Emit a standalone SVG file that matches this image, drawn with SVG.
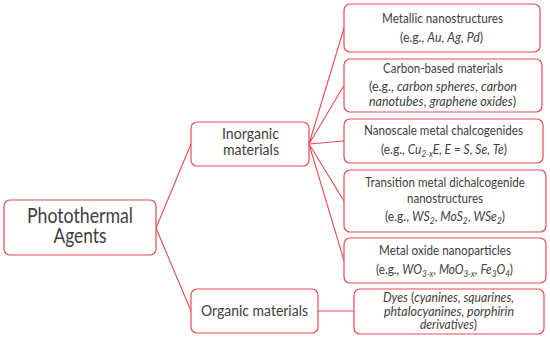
<svg xmlns="http://www.w3.org/2000/svg" width="550" height="338" viewBox="0 0 550 338">
<style>
.box{fill:#fff;stroke:#e94b55;stroke-width:1.2}
.con{fill:none;stroke:#e94b55;stroke-width:1.1}
text{font-family:Lato,"Open Sans","Liberation Sans",sans-serif;fill:#404040;text-anchor:middle}
.t13{font-size:13px}
.i{font-style:italic}
.s{font-size:9px}
</style>
<rect width="550" height="338" fill="#fff"/>
<g id="connectors">
<path class="con" d="M156,228 L191,144 M156,228 L191,311"/>
<path class="con" d="M309,144 L344,28 M309,144 L344,85.5 M309,144 L344,141 M309,144 L344,201 M309,144 L344,260.5"/>
<path class="con" d="M318,311 L354,311"/>
</g>
<g id="photothermal">
<rect class="box" x="4" y="200" width="152" height="55" rx="6"/>
<text x="80" y="223.3" font-size="21" textLength="106" lengthAdjust="spacingAndGlyphs">Photothermal</text>
<text x="80" y="243.3" font-size="21" textLength="53" lengthAdjust="spacingAndGlyphs">Agents</text>
</g>
<g id="inorganic">
<rect class="box" x="191" y="122" width="118" height="44" rx="6"/>
<text x="250.5" y="139" font-size="15.5" textLength="57" lengthAdjust="spacingAndGlyphs">Inorganic</text>
<text x="251" y="155" font-size="15.5" textLength="56" lengthAdjust="spacingAndGlyphs">materials</text>
</g>
<g id="organic">
<rect class="box" x="191" y="289" width="127" height="44" rx="6"/>
<text x="254.5" y="316" font-size="15.5" textLength="107" lengthAdjust="spacingAndGlyphs">Organic materials</text>
</g>
<g id="metallic">
<rect class="box" x="344" y="4" width="196" height="48" rx="6"/>
<text class="t13" x="442.5" y="23" textLength="121" lengthAdjust="spacingAndGlyphs">Metallic nanostructures</text>
<text class="t13" x="441.5" y="42" textLength="83" lengthAdjust="spacingAndGlyphs">(e.g., <tspan class="i">Au</tspan>, <tspan class="i">Ag</tspan>, <tspan class="i">Pd</tspan>)</text>
</g>
<g id="carbon">
<rect class="box" x="344" y="59" width="198" height="53" rx="6"/>
<text class="t13" x="443" y="73" textLength="120" lengthAdjust="spacingAndGlyphs">Carbon-based materials</text>
<text class="t13" x="443" y="91" textLength="148" lengthAdjust="spacingAndGlyphs">(e.g., <tspan class="i">carbon spheres</tspan>, <tspan class="i">carbon</tspan></text>
<text class="t13" x="442.5" y="106" textLength="147" lengthAdjust="spacingAndGlyphs"><tspan class="i">nanotubes</tspan>, <tspan class="i">graphene oxides</tspan>)</text>
</g>
<g id="chalcogenides">
<rect class="box" x="344" y="119" width="199" height="44" rx="6"/>
<text class="t13" x="443.5" y="135" textLength="159" lengthAdjust="spacingAndGlyphs">Nanoscale metal chalcogenides</text>
<text class="t13" x="444" y="154" textLength="126" lengthAdjust="spacingAndGlyphs">(e.g., <tspan class="i">Cu<tspan class="s" dy="3">2-x</tspan><tspan dy="-3">E</tspan>, E = S</tspan>, <tspan class="i">Se</tspan>, <tspan class="i">Te</tspan>)</text>
</g>
<g id="dichalcogenide">
<rect class="box" x="344" y="170" width="202" height="62" rx="6"/>
<text class="t13" x="445" y="187" textLength="160" lengthAdjust="spacingAndGlyphs">Transition metal dichalcogenide</text>
<text class="t13" x="445" y="203" textLength="76" lengthAdjust="spacingAndGlyphs">nanostructures</text>
<text class="t13" x="445" y="221" textLength="120" lengthAdjust="spacingAndGlyphs">(e.g., <tspan class="i">WS<tspan class="s" dy="3">2</tspan></tspan><tspan dy="-3">, </tspan><tspan class="i">MoS<tspan class="s" dy="3">2</tspan></tspan><tspan dy="-3">, </tspan><tspan class="i">WSe<tspan class="s" dy="3">2</tspan></tspan><tspan dy="-3">)</tspan></text>
</g>
<g id="oxide">
<rect class="box" x="344" y="238" width="202" height="45" rx="6"/>
<text class="t13" x="445" y="255" textLength="132" lengthAdjust="spacingAndGlyphs">Metal oxide nanoparticles</text>
<text class="t13" x="444.5" y="274" textLength="137" lengthAdjust="spacingAndGlyphs">(e.g., <tspan class="i">WO<tspan class="s" dy="3">3-x</tspan></tspan><tspan dy="-3">, </tspan><tspan class="i">MoO<tspan class="s" dy="3">3-x</tspan></tspan><tspan dy="-3">, </tspan><tspan class="i">Fe<tspan class="s" dy="3">3</tspan><tspan dy="-3">O</tspan><tspan class="s" dy="3">4</tspan></tspan><tspan dy="-3">)</tspan></text>
</g>
<g id="dyes">
<rect class="box" x="354" y="289" width="190" height="45" rx="6"/>
<text class="t13" x="448.5" y="302" textLength="131" lengthAdjust="spacingAndGlyphs"><tspan class="i">Dyes</tspan> (<tspan class="i">cyanines, squarines,</tspan></text>
<text class="t13 i" x="449" y="315.5" textLength="130" lengthAdjust="spacingAndGlyphs">phtalocyanines, porphirin</text>
<text class="t13" x="448.5" y="329" textLength="57" lengthAdjust="spacingAndGlyphs"><tspan class="i">derivatives</tspan>)</text>
</g>
</svg>
